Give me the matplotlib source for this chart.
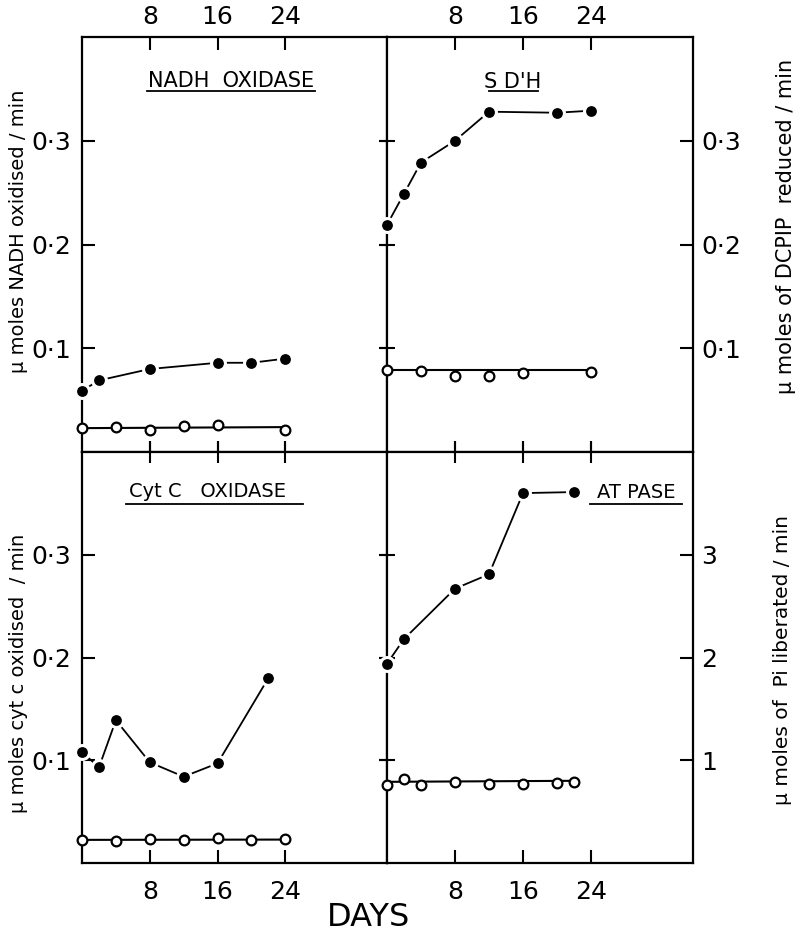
import matplotlib
matplotlib.use("Agg")
import matplotlib.pyplot as plt
from matplotlib.ticker import FixedLocator

plt.rcParams['font.family'] = ['DejaVu Sans']

# NADH oxidase
nadh_days_f = [0, 2, 8, 16, 20, 24]
nadh_f = [0.059, 0.069, 0.080, 0.086, 0.086, 0.090]
nadh_days_o = [0, 4, 8, 12, 16, 24]
nadh_o = [0.023, 0.024, 0.021, 0.025, 0.026, 0.021]
nadh_o_fit = [0.023, 0.024]

# SDH
sdh_days_f = [0, 2, 4, 8, 12, 20, 24]
sdh_f = [0.219, 0.249, 0.279, 0.300, 0.328, 0.327, 0.329]
sdh_days_o = [0, 4, 8, 12, 16, 24]
sdh_o = [0.079, 0.078, 0.073, 0.0735, 0.076, 0.077]
sdh_o_fit = [0.079, 0.079]

# Cyt c oxidase
cyt_days_f = [0, 2, 4, 8, 12, 16, 22]
cyt_f = [0.108, 0.093, 0.139, 0.098, 0.084, 0.097, 0.180]
cyt_days_o = [0, 4, 8, 12, 16, 20, 24]
cyt_o = [0.022, 0.021, 0.023, 0.022, 0.024, 0.0225, 0.023]
cyt_o_fit = [0.0225, 0.0228]

# ATPase
atp_days_f = [0, 2, 8, 12, 16, 22]
atp_f = [1.94, 2.18, 2.67, 2.81, 3.60, 3.61]
atp_days_o = [0, 2, 4, 8, 12, 16, 20, 22]
atp_o = [0.76, 0.82, 0.76, 0.79, 0.77, 0.77, 0.78, 0.79]
atp_o_fit = [0.79, 0.80]

day_ticks = [8, 16, 24]
day_labels = ['8', '16', '24']
small_ticks = [0.1, 0.2, 0.3]
small_labels = ['0·1', '0·2', '0·3']
atp_ticks = [1, 2, 3]
atp_labels = ['1', '2', '3']

W, H = 799, 934
fig = plt.figure(figsize=(W / 100, H / 100), dpi=100)


def px_axes(x0, y0, x1, y1):
    return fig.add_axes([x0 / W, 1 - y1 / H, (x1 - x0) / W, (y1 - y0) / H])


ax_tl = px_axes(82, 37, 387, 452)
ax_tr = px_axes(387, 37, 693, 452)
ax_bl = px_axes(82, 452, 387, 863)
ax_br = px_axes(387, 452, 693, 863)

tick_fs = 18


def style(ax, top, left, yticks, ylabels, ylim):
    ax.set_xlim(0, 36)
    ax.set_ylim(*ylim)
    for s in ax.spines.values():
        s.set_linewidth(1.6)
    ax.xaxis.set_major_locator(FixedLocator(day_ticks))
    ax.yaxis.set_major_locator(FixedLocator(yticks))
    ax.set_xticklabels(day_labels)
    ax.set_yticklabels(ylabels)
    # outer edges: inward ticks with labels
    if top:
        ax.tick_params(axis='x', top=True, labeltop=True, bottom=False, labelbottom=False,
                       direction='in', length=9.5, width=1.5, pad=6, labelsize=tick_fs)
    else:
        ax.tick_params(axis='x', bottom=True, labelbottom=True, top=False, labeltop=False,
                       direction='in', length=9.5, width=1.5, pad=12, labelsize=tick_fs)
    if left:
        ax.tick_params(axis='y', left=True, labelleft=True, right=False, labelright=False,
                       direction='in', length=9.5, width=1.5, pad=8, labelsize=tick_fs)
    else:
        ax.tick_params(axis='y', right=True, labelright=True, left=False, labelleft=False,
                       direction='in', length=9.5, width=1.5, pad=6, labelsize=tick_fs)


style(ax_tl, True, True, small_ticks, small_labels, (0, 0.4))
style(ax_tr, True, False, small_ticks, small_labels, (0, 0.4))
style(ax_bl, False, True, small_ticks, small_labels, (0, 0.4))
style(ax_br, False, False, atp_ticks, atp_labels, (0, 4))

# crossing ticks on the inner dividing lines
for ax, yt in [(ax_tl, small_ticks), (ax_tr, small_ticks), (ax_bl, small_ticks), (ax_br, atp_ticks)]:
    inner = ax.secondary_xaxis('bottom' if ax in (ax_tl, ax_tr) else 'top')
    inner.xaxis.set_major_locator(FixedLocator(day_ticks))
    inner.tick_params(direction='inout', length=16, width=1.5, labelbottom=False, labeltop=False)
    inner.spines[:].set_visible(False)
    innery = ax.secondary_yaxis('right' if ax in (ax_tl, ax_bl) else 'left')
    innery.yaxis.set_major_locator(FixedLocator(yt))
    innery.tick_params(direction='inout', length=11, width=1.5, labelleft=False, labelright=False)
    innery.spines[:].set_visible(False)

fill_kw = dict(color='k', lw=1.3, marker='o', markersize=10, markerfacecolor='k',
               markeredgecolor='white', markeredgewidth=2.2, clip_on=False, zorder=3)
open_kw = dict(ls='none', marker='o', markersize=7, markerfacecolor='white',
               markeredgecolor='k', markeredgewidth=1.6, clip_on=False, zorder=4)
line_kw = dict(color='k', lw=1.5, clip_on=False, zorder=2)

panels = [
    (ax_tl, nadh_days_f, nadh_f, nadh_days_o, nadh_o, nadh_o_fit),
    (ax_tr, sdh_days_f, sdh_f, sdh_days_o, sdh_o, sdh_o_fit),
    (ax_bl, cyt_days_f, cyt_f, cyt_days_o, cyt_o, cyt_o_fit),
    (ax_br, atp_days_f, atp_f, atp_days_o, atp_o, atp_o_fit),
]
for ax, xf, yf, xo, yo, fit in panels:
    ax.plot(xf, yf, **fill_kw)
    ax.plot([xo[0], xo[-1]], fit, **line_kw)
    ax.plot(xo, yo, **open_kw)


def title(ax, text, x, y, u0, u1, uy, fs):
    ax.text(x, y, text, transform=ax.transAxes, ha='center', va='center', fontsize=fs)
    ax.plot([u0, u1], [uy, uy], transform=ax.transAxes, color='k', lw=1.3, clip_on=False)


title(ax_tl, 'NADH  OXIDASE', 0.489, 0.894, 0.213, 0.764, 0.870, 15)
title(ax_tr, "S D'H", 0.412, 0.891, 0.333, 0.494, 0.870, 15)
title(ax_bl, 'Cyt C   OXIDASE', 0.41, 0.905, 0.144, 0.725, 0.874, 14)
title(ax_br, 'AT PASE', 0.814, 0.902, 0.663, 0.964, 0.874, 14)

fig.text(19 / W, 1 - 231 / H, 'μ moles NADH oxidised / min', rotation=90,
         ha='center', va='center', fontsize=14)
fig.text(786 / W, 1 - 226 / H, 'μ moles of DCPIP  reduced / min', rotation=90,
         ha='center', va='center', fontsize=15)
fig.text(19 / W, 1 - 673 / H, 'μ moles cyt c oxidised  / min', rotation=90,
         ha='center', va='center', fontsize=14)
fig.text(782 / W, 1 - 660 / H, 'μ moles of  Pi liberated / min', rotation=90,
         ha='center', va='center', fontsize=14.5)
fig.text(368 / W, 1 - 918 / H, 'DAYS', ha='center', va='center', fontsize=23)

fig.savefig('out.png', dpi=100)
